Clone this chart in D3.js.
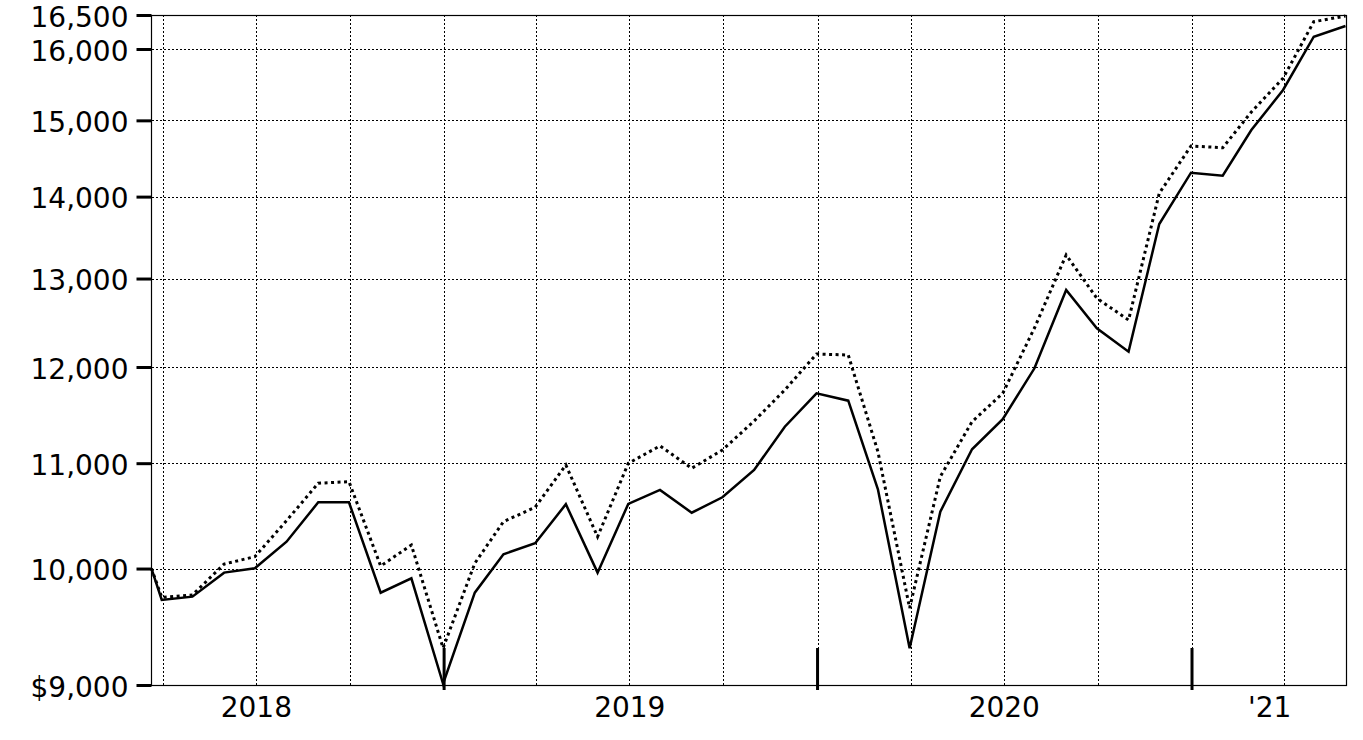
<!DOCTYPE html>
<html>
<head>
<meta charset="utf-8">
<script src="https://cdn.jsdelivr.net/npm/d3@7"></script>
<style>
  body { margin: 0; background: #fff; }
  svg { display: block; }
  .grid line { stroke: #000; stroke-width: 1; stroke-dasharray: 2,2; shape-rendering: crispEdges; }
  .axis { font-family: 'DejaVu Sans', Verdana, sans-serif; }
  .axis text { font-size: 28px; fill: #000; }
</style>
</head>
<body>
<svg id="chart" width="1363" height="740"></svg>
<script>
// month-end values, first entry is the starting date
var dates = [
    '2018-03-21', '2018-03-31', '2018-04-30', '2018-05-31', '2018-06-30', '2018-07-31',
    '2018-08-31', '2018-09-30', '2018-10-31', '2018-11-30', '2018-12-31',
    '2019-01-31', '2019-02-28', '2019-03-31', '2019-04-30', '2019-05-31', '2019-06-30',
    '2019-07-31', '2019-08-31', '2019-09-30', '2019-10-31', '2019-11-30', '2019-12-31',
    '2020-01-31', '2020-02-29', '2020-03-31', '2020-04-30', '2020-05-31', '2020-06-30',
    '2020-07-31', '2020-08-31', '2020-09-30', '2020-10-31', '2020-11-30', '2020-12-31',
    '2021-01-31', '2021-02-28', '2021-03-31', '2021-04-30', '2021-05-31'
];
var fundValues = [
    10000, 9720, 9749, 9963, 10002, 10246, 10618, 10618, 9784, 9912, 9010,
    9784, 10130, 10231, 10599, 9963, 10602, 10737, 10518, 10666, 10933, 11369, 11718,
    11640, 10743, 9304, 10528, 11139, 11446, 11986, 12866, 12428, 12168, 13657, 14306,
    14267, 14870, 15418, 16179, 16337
];
var indexValues = [
    10000, 9743, 9764, 10041, 10108, 10443, 10802, 10818, 10023, 10215, 9306,
    10048, 10433, 10570, 10982, 10292, 10999, 11173, 10949, 11132, 11428, 11753, 12142,
    12131, 11115, 9649, 10867, 11421, 11718, 12431, 13280, 12770, 12521, 14042, 14656,
    14633, 15114, 15582, 16400, 16485
];
var yTicks = [9000, 10000, 11000, 12000, 13000, 14000, 15000, 16000, 16500];
var yearLabels = ['2018', '2019', '2020', "'21"];
var yearStarts = ['2019-01-01', '2020-01-01', '2021-01-01'];
var domainDates = ['2018-03-21', '2021-06-01'];

var parse = d3.timeParse('%Y-%m-%d');
var fmt = d3.format(',d');

var svg = d3.select('#chart');
var plotLeft = 151.5, plotRight = 1346.5, plotTop = 15, plotBottom = 685;

var x = d3.scaleTime()
    .domain(domainDates.map(parse))
    .range([plotLeft, plotRight]);

var y = d3.scaleLog()
    .domain([9000, 16500])
    .range([plotBottom, plotTop]);

var fund = dates.map((d, i) => ({ date: parse(d), value: fundValues[i] }));
var index = dates.map((d, i) => ({ date: parse(d), value: indexValues[i] }));

// grid
var quarters = d3.timeMonth.every(3).range(x.domain()[0], x.domain()[1]);
svg.append('g').attr('class', 'grid')
    .selectAll('line')
    .data(quarters)
    .enter().append('line')
    .attr('x1', d => Math.round(x(d)) + 0.5)
    .attr('x2', d => Math.round(x(d)) + 0.5)
    .attr('y1', plotTop)
    .attr('y2', plotBottom);

svg.append('g').attr('class', 'grid')
    .selectAll('line')
    .data(yTicks.filter(d => d > 9000 && d < 16500))
    .enter().append('line')
    .attr('x1', plotLeft)
    .attr('x2', plotRight)
    .attr('y1', d => Math.round(y(d)) + 0.5)
    .attr('y2', d => Math.round(y(d)) + 0.5);

// frame
svg.append('rect')
    .attr('x', plotLeft)
    .attr('y', plotTop + 0.5)
    .attr('width', plotRight - plotLeft)
    .attr('height', plotBottom - plotTop)
    .attr('fill', 'none')
    .attr('stroke', '#000')
    .attr('stroke-width', 1.2);

// lines
var line = d3.line()
    .x(d => x(d.date))
    .y(d => y(d.value));

svg.append('path')
    .datum(index)
    .attr('d', line)
    .attr('fill', 'none')
    .attr('stroke', '#000')
    .attr('stroke-width', 3)
    .attr('stroke-dasharray', '3,3.5');

svg.append('path')
    .datum(fund)
    .attr('d', line)
    .attr('fill', 'none')
    .attr('stroke', '#000')
    .attr('stroke-width', 2.5)
    .attr('stroke-linejoin', 'miter');

// year boundary ticks
svg.append('g')
    .selectAll('line')
    .data(yearStarts.map(parse))
    .enter().append('line')
    .attr('x1', d => x(d))
    .attr('x2', d => x(d))
    .attr('y1', plotBottom - 37)
    .attr('y2', plotBottom + 5)
    .attr('stroke', '#000')
    .attr('stroke-width', 3);

// y axis
var yAxis = d3.axisLeft(y)
    .tickValues(yTicks)
    .tickSize(15)
    .tickPadding(8)
    .tickFormat(d => (d === 9000 ? '$' : '') + fmt(d));

var gy = svg.append('g')
    .attr('class', 'axis')
    .attr('transform', `translate(${plotLeft},0)`)
    .call(yAxis);
gy.select('.domain').remove();
gy.selectAll('.tick line').attr('stroke', '#000').attr('stroke-width', 3);
gy.selectAll('.tick text').attr('dy', '0.4em');

// x axis labels: centred on each year's visible span
var end = x.domain()[1];
var labelDates = [parse('2018-07-01'), parse('2019-07-01'), parse('2020-07-01'),
    new Date((parse('2021-01-01').getTime() + end.getTime()) / 2)];

var xAxis = d3.axisBottom(x)
    .tickValues(labelDates)
    .tickSize(0)
    .tickPadding(12)
    .tickFormat((d, i) => yearLabels[i]);

var gx = svg.append('g')
    .attr('class', 'axis')
    .attr('transform', `translate(0,${plotBottom})`)
    .call(xAxis);
gx.select('.domain').remove();
</script>
</body>
</html>
